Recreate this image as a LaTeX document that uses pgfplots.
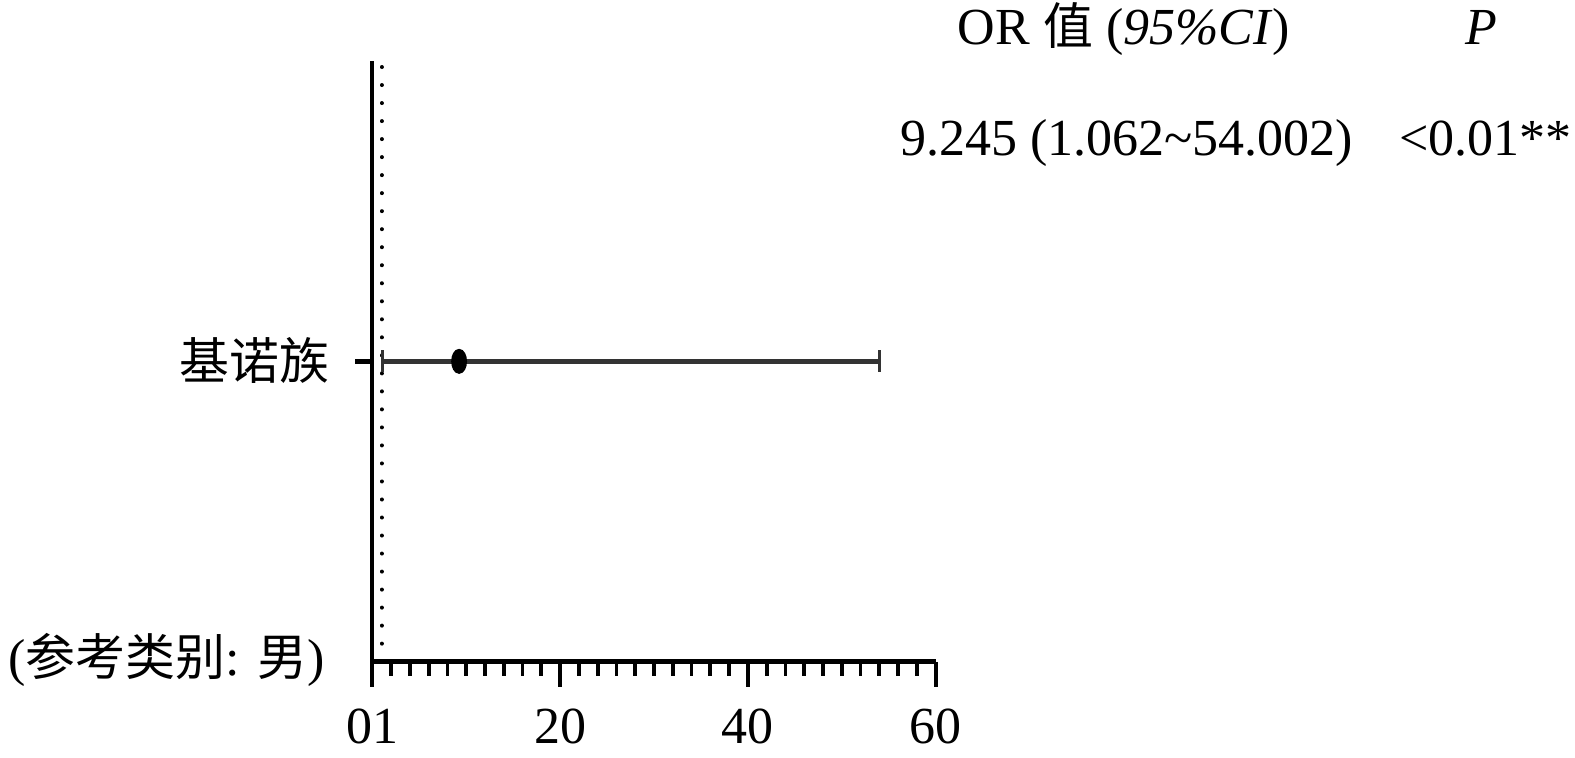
\documentclass[border=0pt]{standalone}
\usepackage{pgfplots}
\pgfplotsset{compat=1.18}
\usepackage{fontspec}
\setmainfont{Liberation Serif}
\newfontfamily\cjk[Scale=0.96]{Noto Sans CJK SC}
\begin{document}
\fontsize{26}{31}\selectfont
\begin{tikzpicture}
\begin{axis}[
  name=ax,
  scale only axis,
  width=281.7pt, height=300.35pt,
  xmin=0, xmax=60, ymin=0, ymax=2,
  axis lines=left,
  axis line style={-, line width=2.2pt, black},
  every outer x axis line/.append style={line width=2.2pt},
  every outer y axis line/.append style={line width=2.2pt},
  xtick={0,20,40,60},
  xticklabels={01,20,40,60},
  minor x tick num=9,
  ytick=\empty,
  extra y ticks={1},
  extra y tick labels={},
  extra y tick style={major tick length=8.5pt, tick style={line width=2.6pt, black}},
  tick align=outside,
  major tick length=12.5pt,
  minor tick length=7pt,
  every tick/.style={line width=1.9pt, black},
  xticklabel style={font=\fontsize{26}{31}\selectfont, yshift=-2pt},
  /pgf/number format/assume math mode=true,
  clip=false,
]
\addplot[line width=2pt, line cap=round, dash pattern=on 0.01pt off 9pt, black] coordinates {(1,0) (1,1.985)};
\addplot[color=black!80, line width=2.4pt, mark=*, mark size=5pt,
  mark options={xscale=0.55, solid, fill=black, draw=black},
  error bars/.cd, x dir=both, x explicit,
  error mark=|,
  error bar style={line width=2.4pt, black!80},
  error mark options={mark size=5.5pt, line width=1.6pt, black!80}]
  coordinates {(9.245,1) -= (8.183,0) += (44.757,0)};
\end{axis}
\node[anchor=east, inner sep=0pt] at ([shift={(-21.15pt,0.2pt)}]ax.west) {\cjk 基诺族};
\node[anchor=east, inner sep=0pt] at ([shift={(-23.65pt,1pt)}]ax.south west) {({\cjk 参考类别}: {\cjk 男})};
\node[anchor=base, inner sep=0pt] at ([shift={(375.85pt,308.35pt)}]ax.south west) {OR {\cjk 值} (\textit{95\%CI})};
\node[anchor=base, inner sep=0pt] at ([shift={(554.35pt,308.35pt)}]ax.south west) {\textit{P}};
\node[anchor=base west, inner sep=0pt] at ([shift={(263.85pt,252.85pt)}]ax.south west) {9.245 (1.062\char`\~54.002)};
\node[anchor=base west, inner sep=0pt] at ([shift={(513.35pt,252.85pt)}]ax.south west) {<0.01**};
\pgfresetboundingbox
\path ([shift={(-186.15pt,-48.15pt)}]ax.south west) rectangle ([shift={(601.35pt,330.85pt)}]ax.south west);
\end{tikzpicture}
\end{document}
